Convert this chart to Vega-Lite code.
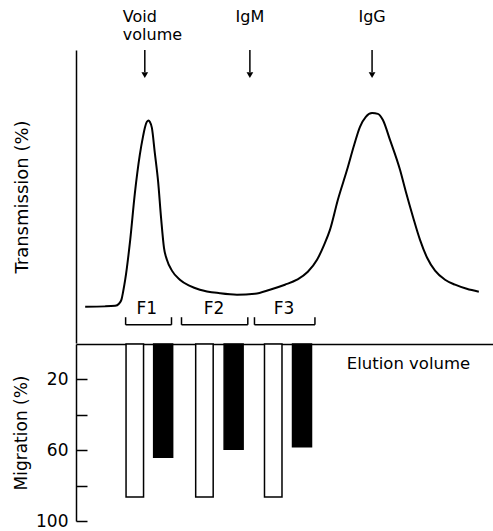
{
  "$schema": "https://vega.github.io/schema/vega-lite/v6.json",
  "padding": {"left": 12, "top": 9, "right": 0, "bottom": 0},
  "spacing": 0,
  "background": "white",
  "config": {
    "view": {"stroke": null},
    "font": "DejaVu Sans",
    "axis": {
      "domainColor": "black", "domainWidth": 1.5,
      "tickColor": "black", "tickWidth": 1.5,
      "labelColor": "black", "titleColor": "black",
      "labelFont": "DejaVu Sans", "titleFont": "DejaVu Sans",
      "titleFontWeight": "normal", "grid": false
    }
  },
  "datasets": {
    "curve": [
      {"volume": 2.2, "transmission": 12.4},
      {"volume": 7.0, "transmission": 12.5},
      {"volume": 9.4, "transmission": 12.7},
      {"volume": 10.3, "transmission": 13.4},
      {"volume": 10.9, "transmission": 14.8},
      {"volume": 11.3, "transmission": 17.5},
      {"volume": 11.8, "transmission": 21.6},
      {"volume": 13.0, "transmission": 35.2},
      {"volume": 14.1, "transmission": 50.9},
      {"volume": 15.3, "transmission": 64.2},
      {"volume": 16.1, "transmission": 70.7},
      {"volume": 16.5, "transmission": 73.4},
      {"volume": 17.0, "transmission": 75.5},
      {"volume": 17.4, "transmission": 75.9},
      {"volume": 17.7, "transmission": 75.5},
      {"volume": 18.2, "transmission": 73.4},
      {"volume": 18.9, "transmission": 64.9},
      {"volume": 19.7, "transmission": 55.0},
      {"volume": 20.4, "transmission": 42.7},
      {"volume": 21.1, "transmission": 32.5},
      {"volume": 21.8, "transmission": 28.4},
      {"volume": 23.0, "transmission": 24.7},
      {"volume": 24.9, "transmission": 21.6},
      {"volume": 27.3, "transmission": 19.5},
      {"volume": 29.7, "transmission": 18.2},
      {"volume": 34.5, "transmission": 17.0},
      {"volume": 38.6, "transmission": 16.5},
      {"volume": 42.9, "transmission": 16.8},
      {"volume": 46.5, "transmission": 18.2},
      {"volume": 50.1, "transmission": 19.9},
      {"volume": 53.0, "transmission": 21.6},
      {"volume": 55.6, "transmission": 24.3},
      {"volume": 57.8, "transmission": 28.4},
      {"volume": 59.5, "transmission": 33.5},
      {"volume": 60.9, "transmission": 38.6},
      {"volume": 62.8, "transmission": 48.9},
      {"volume": 65.0, "transmission": 59.1},
      {"volume": 66.7, "transmission": 67.6},
      {"volume": 68.1, "transmission": 73.8},
      {"volume": 69.5, "transmission": 77.2},
      {"volume": 71.0, "transmission": 78.5},
      {"volume": 72.4, "transmission": 78.2},
      {"volume": 73.6, "transmission": 76.1},
      {"volume": 75.3, "transmission": 69.3},
      {"volume": 77.7, "transmission": 59.1},
      {"volume": 79.1, "transmission": 51.6},
      {"volume": 80.8, "transmission": 43.1},
      {"volume": 82.5, "transmission": 35.2},
      {"volume": 84.2, "transmission": 29.1},
      {"volume": 86.1, "transmission": 24.7},
      {"volume": 88.5, "transmission": 21.6},
      {"volume": 90.9, "transmission": 19.9},
      {"volume": 93.7, "transmission": 18.5},
      {"volume": 96.6, "transmission": 17.5}
    ],
    "fractions": [
      {"fraction": "F1", "start": 11.9, "end": 22.9, "label_at": 17.0},
      {"fraction": "F2", "start": 25.3, "end": 41.2, "label_at": 33.1},
      {"fraction": "F3", "start": 42.8, "end": 57.3, "label_at": 49.9}
    ],
    "markers": [
      {"label": "Void volume", "volume": 16.5},
      {"label": "IgM", "volume": 41.7},
      {"label": "IgG", "volume": 71.0}
    ],
    "migration": [
      {"fraction": "F1", "group": "open", "volume": 14.1, "migration": 86.5},
      {"fraction": "F1", "group": "filled", "volume": 20.9, "migration": 64},
      {"fraction": "F2", "group": "open", "volume": 30.8, "migration": 86.5},
      {"fraction": "F2", "group": "filled", "volume": 37.8, "migration": 59.5},
      {"fraction": "F3", "group": "open", "volume": 47.3, "migration": 86.5},
      {"fraction": "F3", "group": "filled", "volume": 54.2, "migration": 58}
    ]
  },
  "vconcat": [
    {
      "width": 417,
      "height": 293,
      "layer": [
        {
          "data": {"name": "curve"},
          "mark": {"type": "line", "stroke": "black", "strokeWidth": 2, "interpolate": "monotone"},
          "encoding": {
            "x": {"field": "volume", "type": "quantitative", "scale": {"domain": [0, 100], "padding": 0}, "axis": null},
            "y": {"field": "transmission", "type": "quantitative", "scale": {"domain": [0, 100]},
                  "axis": {"title": "Transmission (%)", "ticks": false, "labels": false, "titlePadding": 45, "titleFontSize": 18}}
          }
        },
        {
          "data": {"name": "fractions"},
          "mark": {"type": "rule", "stroke": "black", "strokeWidth": 1.5},
          "encoding": {
            "x": {"field": "start", "type": "quantitative", "axis": null},
            "x2": {"field": "end"},
            "y": {"datum": 6.2}
          }
        },
        {
          "data": {"name": "fractions"},
          "mark": {"type": "rule", "stroke": "black", "strokeWidth": 1.5},
          "encoding": {
            "x": {"field": "start", "type": "quantitative", "axis": null},
            "y": {"datum": 6.2},
            "y2": {"datum": 8.8}
          }
        },
        {
          "data": {"name": "fractions"},
          "mark": {"type": "rule", "stroke": "black", "strokeWidth": 1.5},
          "encoding": {
            "x": {"field": "end", "type": "quantitative", "axis": null},
            "y": {"datum": 6.2},
            "y2": {"datum": 8.8}
          }
        },
        {
          "data": {"name": "fractions"},
          "mark": {"type": "text", "fontSize": 17, "baseline": "middle", "align": "center", "color": "black"},
          "encoding": {
            "x": {"field": "label_at", "type": "quantitative", "axis": null},
            "y": {"datum": 11.5},
            "text": {"field": "fraction"}
          }
        },
        {
          "data": {"name": "markers"},
          "mark": {"type": "rule", "stroke": "black", "strokeWidth": 1.5},
          "encoding": {
            "x": {"field": "volume", "type": "quantitative", "axis": null},
            "y": {"datum": 100},
            "y2": {"datum": 92.5}
          }
        },
        {
          "data": {"name": "markers"},
          "mark": {"type": "point", "shape": "triangle-down", "filled": true, "color": "black", "size": 45, "opacity": 1},
          "encoding": {
            "x": {"field": "volume", "type": "quantitative", "axis": null},
            "y": {"datum": 91.4}
          }
        },
        {
          "data": {"name": "markers"},
          "transform": [{"filter": "datum.label == 'Void volume'"}],
          "mark": {"type": "text", "fontSize": 16, "align": "left", "baseline": "alphabetic", "dx": -22, "lineBreak": " ", "lineHeight": 18, "color": "black"},
          "encoding": {
            "x": {"field": "volume", "type": "quantitative", "axis": null},
            "y": {"datum": 109.5},
            "text": {"field": "label"}
          }
        },
        {
          "data": {"name": "markers"},
          "transform": [{"filter": "datum.label != 'Void volume'"}],
          "mark": {"type": "text", "fontSize": 16, "align": "center", "baseline": "alphabetic", "color": "black"},
          "encoding": {
            "x": {"field": "volume", "type": "quantitative", "axis": null},
            "y": {"datum": 109.5},
            "text": {"field": "label"}
          }
        }
      ]
    },
    {
      "width": 417,
      "height": 177,
      "data": {"name": "migration"},
      "mark": {"type": "bar", "stroke": "black", "strokeWidth": 1.5},
      "encoding": {
        "x": {
          "field": "volume", "type": "quantitative", "scale": {"domain": [0, 100], "padding": 0},
          "axis": {"orient": "top", "ticks": false, "labels": false, "domain": true,
                   "title": "Elution volume", "titleX": 332, "titleY": 19, "titleAlign": "center",
                   "titleBaseline": "middle", "titleFontSize": 16.5, "titleAngle": 0}
        },
        "y": {
          "field": "migration", "type": "quantitative", "scale": {"domain": [0, 100], "reverse": true},
          "axis": {"values": [20, 40, 60, 80, 100],
                   "labelExpr": "datum.value == 40 || datum.value == 80 ? '' : datum.label",
                   "tickSize": -11, "labelPadding": 19, "labelFontSize": 17,
                   "title": "Migration (%)", "titlePadding": 5, "titleFontSize": 17}
        },
        "fill": {"field": "group", "type": "nominal", "scale": {"domain": ["open", "filled"], "range": ["white", "black"]}, "legend": null},
        "size": {"field": "group", "type": "nominal", "scale": {"domain": ["open", "filled"], "range": [17.5, 19]}, "legend": null}
      }
    }
  ]
}
